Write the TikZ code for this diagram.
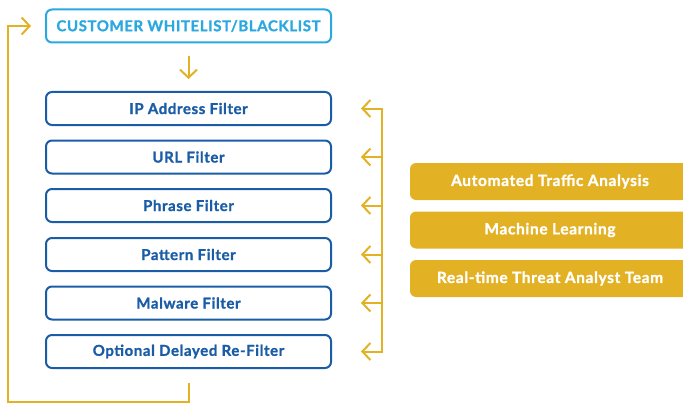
\documentclass[tikz,border=0pt]{standalone}
\usepackage{fontspec}
\setmainfont{Lato}[LetterSpace=4,BoldFeatures={FakeBold=1.2}]
\usetikzlibrary{arrows.meta}
\definecolor{azulclaro}{HTML}{2BA8E0}
\definecolor{azul}{HTML}{1A5DA6}
\definecolor{oro}{HTML}{E3B124}
\begin{document}
\begin{tikzpicture}[x=1pt,y=-1pt,
filtro/.style={draw=azul,line width=2pt,rounded corners=6pt,minimum width=285pt,minimum height=33pt,text=azul,font=\bfseries\fontsize{15}{17}\selectfont},
caja/.style={fill=oro,rounded corners=6pt,minimum width=280pt,minimum height=37pt,text=white,font=\bfseries\fontsize{15.5}{17}\selectfont},
flecha/.style={draw=oro,line width=2pt,-{Straight Barb[length=8pt,width=17pt]}}]
\useasboundingbox (0,0) rectangle (683,404);
\node[filtro,draw=azulclaro,text=azulclaro] (lista) at (188.5,26) {CUSTOMER WHITELIST/BLACKLIST};
\node[filtro] (f1) at (188.5,108.5) {IP Address Filter};
\node[filtro] (f2) at (188.5,157) {URL Filter};
\node[filtro] (f3) at (188.5,205.5) {Phrase Filter};
\node[filtro] (f4) at (188.5,254.5) {Pattern Filter};
\node[filtro] (f5) at (188.5,303) {Malware Filter};
\node[filtro] (f6) at (188.5,351.5) {Optional Delayed Re-Filter};
\node[caja] (g1) at (550,181.5) {Automated Traffic Analysis};
\node[caja] (g2) at (550,230) {Machine Learning};
\node[caja] (g3) at (550,278.5) {Real-time Threat Analyst Team};
% Flechas
\draw[flecha,shorten <=13pt,shorten >=12pt] (lista) -- (f1);
\draw[flecha] ([yshift=-14pt]f6.south) |- (8,402) |- ([xshift=-14pt]lista.west);
\coordinate (b) at (382,0);
\draw[oro,line width=2pt,line cap=rect] (b |- f1) -- (b |- f6);
\foreach \i in {1,...,6}
\draw[flecha] (b |- f\i) -- ([xshift=29pt]f\i.east);
\end{tikzpicture}
\end{document}
